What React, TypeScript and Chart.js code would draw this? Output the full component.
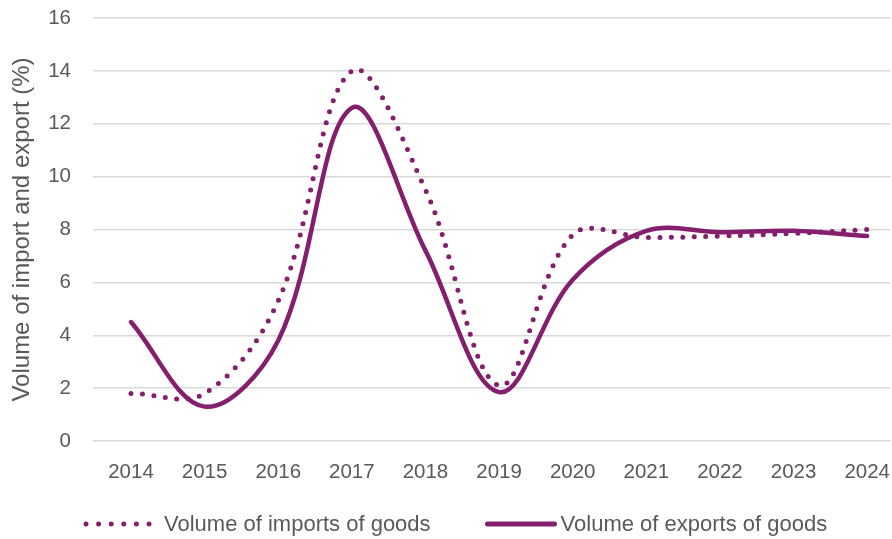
import React, { useEffect, useRef } from "react";
import { Chart, registerables } from "chart.js";

Chart.register(...registerables);

// Annual change in volume of goods trade, %
const years = [2014, 2015, 2016, 2017, 2018, 2019, 2020, 2021, 2022, 2023, 2024];
const importVolume = [1.8, 1.8, 5.3, 14.0, 9.5, 2.1, 7.8, 7.7, 7.75, 7.85, 8.0];
const exportVolume = [4.5, 1.3, 3.8, 12.6, 7.2, 1.85, 6.1, 7.95, 7.9, 7.95, 7.75];
const yTicks = [0, 2, 4, 6, 8, 10, 12, 14, 16];

const importLabel = "Volume of imports of goods";
const exportLabel = "Volume of exports of goods";
const yTitle = "Volume of import and export (%)";

const FONT = '"Liberation Sans", Arial, sans-serif';
const TEXT = "#595959";
const PURPLE = "#841F6E";
const GRID = "#d9d9d9";

// Layout of the plotting frame
const PAD = { left: 0, right: 2, top: 18, bottom: 38 };
const Y_AXIS_WIDTH = 93;
const X_AXIS_HEIGHT = 60;

export default function App() {
  const canvasRef = useRef<HTMLCanvasElement>(null);

  useEffect(() => {
    document.body.style.margin = "0";
    const canvas = canvasRef.current;
    if (!canvas) return;

    const chart = new Chart(canvas, {
      type: "line",
      data: {
        datasets: [
          {
            label: importLabel,
            data: years.map((x, i) => ({ x, y: importVolume[i] })),
            borderColor: PURPLE,
            backgroundColor: PURPLE,
            borderWidth: 5,
            borderDash: [0, 11.5],
            borderCapStyle: "round",
            pointRadius: 0,
            tension: 0.36,
            fill: false,
          },
          {
            label: exportLabel,
            data: years.map((x, i) => ({ x, y: exportVolume[i] })),
            borderColor: PURPLE,
            backgroundColor: PURPLE,
            borderWidth: 4.5,
            borderCapStyle: "round",
            pointRadius: 0,
            tension: 0.36,
            fill: false,
          },
        ],
      },
      options: {
        animation: false,
        responsive: true,
        maintainAspectRatio: false,
        layout: { padding: PAD },
        plugins: {
          legend: { display: false },
          tooltip: { enabled: false },
        },
        scales: {
          x: {
            type: "linear",
            min: 2013.484,
            max: 2024.31,
            afterBuildTicks: (axis: any) => {
              axis.ticks = years.map((v) => ({ value: v }));
            },
            afterFit: (scale: any) => {
              scale.height = X_AXIS_HEIGHT;
              scale.paddingLeft = 0;
              scale.paddingRight = 0;
            },
            ticks: {
              callback: (v: any) => String(v),
              font: { family: FONT, size: 20.5 },
              color: TEXT,
              padding: 19,
              maxRotation: 0,
              autoSkip: false,
            },
            grid: { display: false, drawTicks: false },
            border: { display: false },
          },
          y: {
            min: 0,
            max: 16,
            afterBuildTicks: (axis: any) => {
              axis.ticks = yTicks.map((v) => ({ value: v }));
            },
            afterFit: (scale: any) => {
              scale.width = Y_AXIS_WIDTH;
              scale.paddingTop = 0;
              scale.paddingBottom = 0;
            },
            ticks: {
              font: { family: FONT, size: 20.5 },
              color: TEXT,
              padding: 22,
            },
            grid: { color: GRID, lineWidth: 1.5, drawTicks: false },
            border: { display: false },
            title: {
              display: true,
              text: yTitle,
              font: { family: FONT, size: 24 },
              color: TEXT,
              padding: { top: 8, bottom: 0 },
            },
          },
        },
      },
    });

    return () => chart.destroy();
  }, []);

  const legendText: React.CSSProperties = {
    fontFamily: FONT,
    fontSize: 22,
    color: TEXT,
    whiteSpace: "nowrap",
  };

  return (
    <div style={{ position: "relative", width: 892, height: 539 }}>
      <canvas ref={canvasRef} />
      <div
        style={{
          position: "absolute",
          left: 83,
          top: 511,
          display: "flex",
          alignItems: "center",
          height: 26,
        }}
      >
        <svg width={70} height={10} style={{ marginRight: 11 }}>
          <line
            x1={3}
            y1={5}
            x2={67}
            y2={5}
            stroke={PURPLE}
            strokeWidth={5}
            strokeLinecap="round"
            strokeDasharray="0 12.6"
          />
        </svg>
        <span style={legendText}>{importLabel}</span>
        <svg width={72} height={10} style={{ marginLeft: 54, marginRight: 4 }}>
          <line x1={2.5} y1={5} x2={69.5} y2={5} stroke={PURPLE} strokeWidth={5} strokeLinecap="round" />
        </svg>
        <span style={legendText}>{exportLabel}</span>
      </div>
    </div>
  );
}
